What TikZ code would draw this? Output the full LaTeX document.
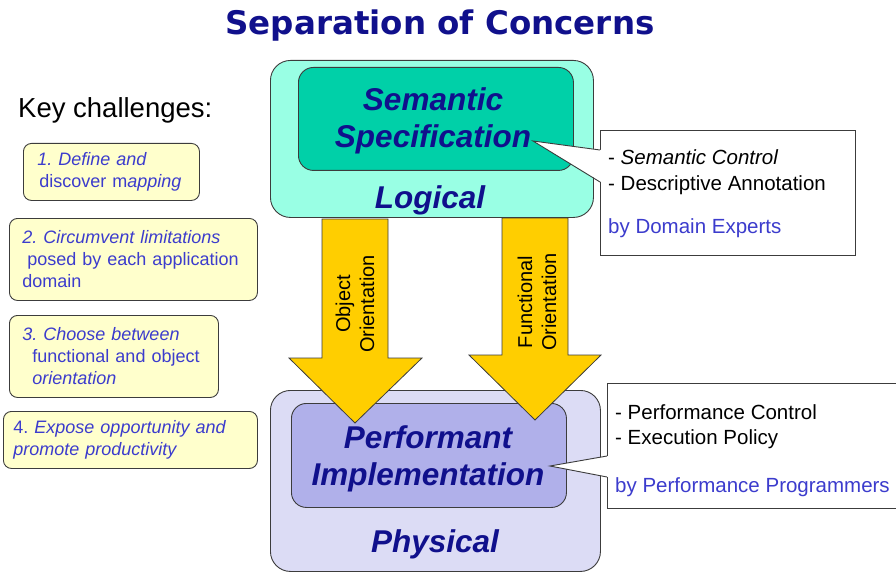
\documentclass[tikz,border=0pt]{standalone}
\usepackage{fontspec}
\setmainfont{Liberation Sans}
\newfontfamily\titlefont{DejaVu Sans}
\frenchspacing

\definecolor{navy}{RGB}{16,16,140}
\definecolor{inkblue}{RGB}{60,60,205}
\definecolor{edgegray}{RGB}{60,60,60}
\definecolor{logicfill}{RGB}{153,255,228}
\definecolor{semfill}{RGB}{0,208,168}
\definecolor{physfill}{RGB}{220,220,245}
\definecolor{perffill}{RGB}{176,176,234}
\definecolor{flowfill}{RGB}{255,206,0}
\definecolor{notefill}{RGB}{255,255,204}

\tikzset{
  layer/.style={draw=edgegray, line width=0.9pt, rounded corners=20pt, anchor=north west, inner sep=0pt},
  core/.style={layer, rounded corners=15pt},
  tag/.style={text=navy, font=\fontsize{31.5}{37.5}\selectfont\bfseries\itshape, align=center, inner sep=0pt},
  challenge/.style={draw=edgegray, fill=notefill, line width=0.9pt, rounded corners=8pt, anchor=north west,
    align=left, text=inkblue, font=\fontsize{18}{22}\selectfont, inner ysep=0pt},
  flow/.style={draw=edgegray, fill=flowfill, line width=0.8pt},
  flowtext/.style={rotate=90, align=center, inner sep=0pt, font=\fontsize{20}{24}\selectfont},
  note/.style={anchor=base west, inner sep=0pt, font=\fontsize{20.5}{24}\selectfont},
}

\begin{document}
\begin{tikzpicture}[x=1pt,y=-1pt]
  \useasboundingbox (0,0) rectangle (896,572);

  % title
  \node[anchor=base, text=navy, font=\titlefont\fontsize{32.5}{36}\selectfont\bfseries] (title) at (440,35) {Separation of Concerns};

  % key challenges
  \node[anchor=base west, inner sep=0pt, font=\fontsize{27.5}{30}\selectfont] (keys) at (18,118) {Key challenges:};
  \node[challenge, text width=148pt, inner xsep=14pt, minimum height=57pt] (define) at (23,143)
    {\textit{1. Define and}\\\hspace*{2pt}discover m\textit{apping}};
  \node[challenge, text width=222pt, inner xsep=13pt, minimum height=82pt] (circumvent) at (9,218)
    {\textit{2. Circumvent limitations}\\\hspace*{5pt}posed by each application\\domain};
  \node[challenge, text width=183pt, inner xsep=13pt, minimum height=82pt] (choose) at (9,315)
    {\textit{3. Choose between}\\\hspace*{10pt}functional and object\\\hspace*{10pt}\textit{orientation}};
  \node[challenge, text width=234pt, inner xsep=10pt, minimum height=57pt] (expose) at (3,411)
    {4. \textit{Expose opportunity and}\\\textit{promote productivity}};

  % layers
  \node[layer, fill=logicfill, minimum width=323pt, minimum height=157pt] (logical) at (270,60) {};
  \node[core, fill=semfill, minimum width=275pt, minimum height=103pt] (semspec) at (298,67) {};
  \node[layer, fill=physfill, minimum width=330pt, minimum height=181pt] (physical) at (270,390) {};
  \node[core, fill=perffill, minimum width=275pt, minimum height=104pt] (perfimpl) at (291,403) {};

  % orientation arrows
  \draw[flow] (322,219) -- (388,219) -- (388,358) -- (422,358) -- (355,423) -- (289,358) -- (322,358) -- cycle;
  \draw[flow] (502,218) -- (568,218) -- (568,355) -- (601,355) -- (535,420) -- (469,355) -- (502,355) -- cycle;
  \node[flowtext] (objorient) at (355,304) {Object\\Orientation};
  \node[flowtext] (funorient) at (537,302) {Functional\\Orientation};

  % layer labels
  \node[tag] (semlabel) at (433,121) {Semantic\\Specification};
  \node[tag, anchor=base] (loglabel) at (430,208) {Logical};
  \node[tag] (perflabel) at (428,459) {Performant\\Implementation};
  \node[tag, anchor=base] (physlabel) at (435,552) {Physical};

  % callouts
  \coordinate (semtip) at (533,141);
  \coordinate (perftip) at (550,466);
  \node[draw=edgegray, fill=white, line width=0.9pt, anchor=north west, minimum width=255pt, minimum height=125pt, inner sep=0pt] (domainbox) at (600,130) {};
  \fill[white] (semtip) -- (601,150) -- (601,182) -- cycle;
  \draw[edgegray, line width=0.9pt] (600,150) -- (semtip) -- (600,182);
  \node[draw=edgegray, fill=white, line width=0.9pt, anchor=north west, minimum width=300pt, minimum height=125pt, inner sep=0pt] (perfbox) at (607,383) {};
  \fill[white] (perftip) -- (608,456) -- (608,477) -- cycle;
  \draw[edgegray, line width=0.9pt] (607,456) -- (perftip) -- (607,477);

  \node[note] (semctl) at (608,165) {- \textit{Semantic Control}};
  \node[note] (descann) at (608,190.5) {- Descriptive Annotation};
  \node[note, text=inkblue] (experts) at (608,233) {by Domain Experts};
  \node[note] (perfctl) at (615,419) {- Performance Control};
  \node[note] (execpol) at (615,444.5) {- Execution Policy};
  \node[note, text=inkblue] (programmers) at (615,492.5) {by Performance Programmers};
\end{tikzpicture}
\end{document}
